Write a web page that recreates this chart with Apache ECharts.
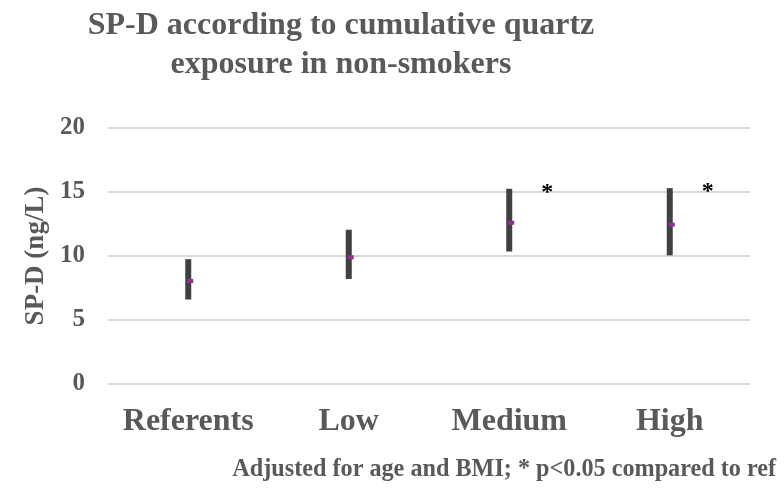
<!DOCTYPE html>
<html>
<head>
<meta charset="utf-8">
<script src="https://cdn.jsdelivr.net/npm/echarts@6/dist/echarts.min.js"></script>
<style>
  html, body { margin: 0; padding: 0; background: #fff; }
  #chart { width: 784px; height: 490px; }
</style>
</head>
<body>
<div id="chart"></div>
<script>
// SP-D by cumulative quartz exposure group (non-smokers)
const categories = ['Referents', 'Low', 'Medium', 'High'];
const lowerCI = [6.6, 8.2, 10.35, 10.05];
const upperCI = [9.75, 12.05, 15.25, 15.3];
const means = [8.05, 9.9, 12.6, 12.45];
const significance = ['', '', '*', '*'];
const yTicks = [0, 5, 10, 15, 20];

const SERIF = '"Liberation Serif", "Times New Roman", serif';
const TEXT_GREY = '#595959';

const chart = echarts.init(document.getElementById('chart'));

const rangeData = categories.map((c, i) => [i, lowerCI[i], upperCI[i], means[i]]);
const sigData = categories.map((c, i) => [i, upperCI[i], significance[i]]);

chart.setOption({
  animation: false,
  backgroundColor: '#ffffff',
  graphic: [
    {
      type: 'text', x: 341, y: 6,
      style: {
        text: 'SP-D according to cumulative quartz\nexposure in non-smokers',
        font: 'bold 32px ' + SERIF, fill: TEXT_GREY,
        align: 'center', verticalAlign: 'top', lineHeight: 39
      }
    },
    {
      type: 'text', x: 776, y: 470,
      style: {
        text: 'Adjusted for age and BMI; * p<0.05 compared to ref',
        font: 'bold 24.2px ' + SERIF, fill: TEXT_GREY,
        align: 'right', verticalAlign: 'middle'
      }
    }
  ],
  grid: { left: 108, right: 34, top: 128, bottom: 106 },
  xAxis: {
    type: 'category',
    data: categories,
    boundaryGap: true,
    axisLine: { show: false },
    axisTick: { show: false },
    axisLabel: {
      interval: 0,
      margin: 22,
      fontFamily: SERIF, fontWeight: 'bold', fontSize: 32, color: TEXT_GREY
    }
  },
  yAxis: {
    type: 'value',
    min: yTicks[0], max: yTicks[yTicks.length - 1], interval: 5,
    name: 'SP-D (ng/L)',
    nameLocation: 'middle',
    nameRotate: 90,
    nameGap: 55,
    nameTextStyle: { fontFamily: SERIF, fontWeight: 'bold', fontSize: 27, color: TEXT_GREY },
    axisLine: { show: false },
    axisTick: { show: false },
    axisLabel: {
      margin: 23,
      fontFamily: SERIF, fontWeight: 'bold', fontSize: 25, color: TEXT_GREY
    },
    splitLine: { lineStyle: { color: '#d9d9d9', width: 2 } }
  },
  series: [
    {
      type: 'custom',
      name: 'range',
      data: rangeData,
      encode: { x: 0, y: [1, 2, 3] },
      renderItem: function (params, api) {
        const i = api.value(0);
        const top = api.coord([i, api.value(2)]);
        const bot = api.coord([i, api.value(1)]);
        const mid = api.coord([i, api.value(3)]);
        return {
          type: 'group',
          children: [
            {
              type: 'rect',
              shape: { x: top[0] - 3, y: top[1], width: 6, height: bot[1] - top[1] },
              style: { fill: '#404040' }
            },
            {
              type: 'rect',
              shape: { x: mid[0] - 1, y: mid[1] - 2, width: 6, height: 4 },
              style: { fill: '#93318f' }
            }
          ]
        };
      }
    },
    {
      type: 'custom',
      name: 'significance',
      data: sigData,
      encode: { x: 0, y: 1 },
      renderItem: function (params, api) {
        const idx = params.dataIndex;
        const mark = sigData[idx][2];
        if (!mark) return null;
        const p = api.coord([api.value(0), api.value(1)]);
        return {
          type: 'text',
          x: p[0] + 38,
          y: p[1] + 4,
          style: {
            text: mark, font: 'bold 24px ' + SERIF, fill: '#000000',
            align: 'center', verticalAlign: 'middle'
          }
        };
      }
    }
  ]
});
</script>
</body>
</html>
